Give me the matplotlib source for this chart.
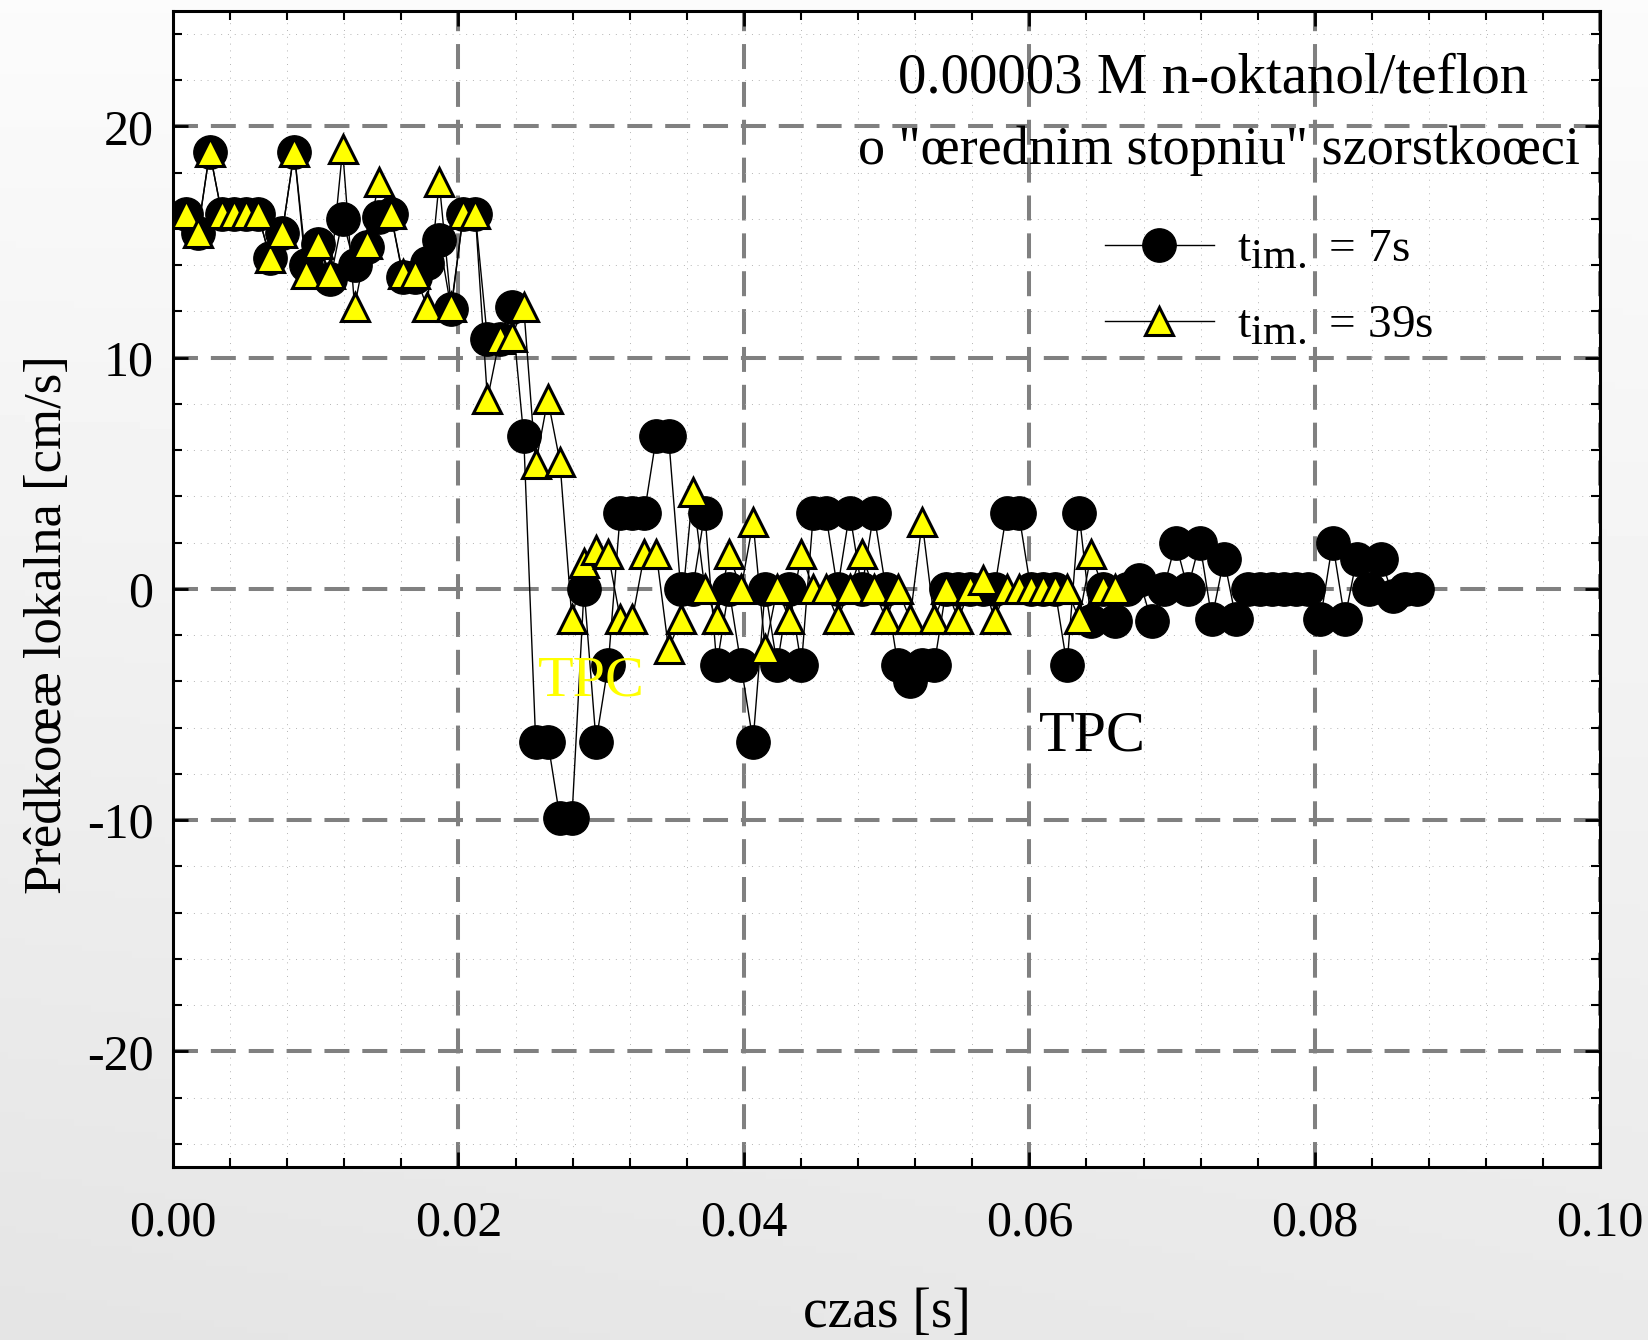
import numpy as np
import matplotlib.pyplot as plt
import matplotlib._mathtext as mathtext_internals
from matplotlib.ticker import MultipleLocator, FormatStrFormatter

plt.rcParams['font.family'] = ['Liberation Serif', 'DejaVu Serif']
plt.rcParams['mathtext.fontset'] = 'custom'
plt.rcParams['mathtext.rm'] = 'Liberation Serif'
plt.rcParams['axes.unicode_minus'] = False
# the legend subscripts "im." are nearly full size in the original
mathtext_internals.SHRINK_FACTOR = 0.92

# czas [s] - time of each frame
czas = [0.00088, 0.00173, 0.00257, 0.00342, 0.00426, 0.00511, 0.00596, 0.00680,
        0.00765, 0.00849, 0.00934, 0.01019, 0.01103, 0.01188, 0.01272, 0.01357,
        0.01442, 0.01526, 0.01611, 0.01695, 0.01780, 0.01865, 0.01949, 0.02034,
        0.02118, 0.02203, 0.02288, 0.02372, 0.02457, 0.02541, 0.02626, 0.02711,
        0.02795, 0.02880, 0.02964, 0.03049, 0.03134, 0.03218, 0.03303, 0.03387,
        0.03472, 0.03557, 0.03641, 0.03726, 0.03810, 0.03895, 0.03980, 0.04064,
        0.04149, 0.04233, 0.04318, 0.04403, 0.04487, 0.04572, 0.04656, 0.04741,
        0.04826, 0.04910, 0.04995, 0.05079, 0.05164, 0.05249, 0.05333, 0.05418,
        0.05502, 0.05587, 0.05672, 0.05756, 0.05841, 0.05925, 0.06010, 0.06095,
        0.06179, 0.06264, 0.06348, 0.06433, 0.06518, 0.06602, 0.06687, 0.06771,
        0.06856, 0.06941, 0.07025, 0.07110, 0.07194, 0.07279, 0.07364, 0.07448,
        0.07533, 0.07617, 0.07702, 0.07787, 0.07871, 0.07956, 0.08040, 0.08125,
        0.08210, 0.08294, 0.08379, 0.08463, 0.08548, 0.08633, 0.08717]

# t im. = 7s
v_7s = [16.2, 15.4, 18.9, 16.2, 16.2, 16.2, 16.2, 14.3, 15.4, 18.9,
        14.0, 14.9, 13.4, 16.0, 14.0, 14.8, 16.1, 16.2, 13.5, 13.5,
        14.1, 15.1, 12.1, 16.2, 16.2, 10.8, 10.8, 12.2, 6.6, -6.6,
        -6.6, -9.9, -9.9, 0.0, -6.6, -3.3, 3.3, 3.3, 3.3, 6.6,
        6.6, 0.0, 0.0, 3.3, -3.3, 0.0, -3.3, -6.6, 0.0, -3.3,
        0.0, -3.3, 3.3, 3.3, 0.0, 3.3, 0.0, 3.3, 0.0, -3.3,
        -4.0, -3.3, -3.3, 0.0, 0.0, 0.0, 0.0, 0.0, 3.3, 3.3,
        0.0, 0.0, 0.0, -3.3, 3.3, -1.4, 0.0, -1.4, 0.0, 0.4,
        -1.4, 0.0, 2.0, 0.0, 2.0, -1.3, 1.3, -1.3, 0.0, 0.0,
        0.0, 0.0, 0.0, 0.0, -1.3, 2.0, -1.3, 1.3, 0.0, 1.3,
        -0.3, 0.0, 0.0]

# t im. = 39s
v_39s = [16.2, 15.4, 18.9, 16.2, 16.2, 16.2, 16.2, 14.3, 15.4, 18.9,
         13.6, 14.9, 13.6, 19.0, 12.2, 14.9, 17.6, 16.2, 13.6, 13.6,
         12.2, 17.6, 12.2, 16.2, 16.2, 8.2, 10.8, 10.9, 12.2, 5.4,
         8.2, 5.5, -1.3, 1.1, 1.7, 1.5, -1.3, -1.3, 1.5, 1.5,
         -2.6, -1.3, 4.2, 0.0, -1.3, 1.5, 0.0, 2.9, -2.6, 0.0,
         -1.3, 1.5, 0.0, 0.0, -1.3, 0.0, 1.5, 0.0, -1.3, 0.0,
         -1.3, 2.9, -1.3, 0.0, -1.3, 0.0, 0.4, -1.3, 0.0, 0.0,
         0.0, 0.0, 0.0, 0.0, -1.3, 1.5, 0.0, 0.0]

fig = plt.figure(figsize=(16.48, 13.40), dpi=100)

# soft grey gradient behind the plot
bg = fig.add_axes([0, 0, 1, 1], zorder=-10)
gx, gy = np.meshgrid(np.linspace(0, 1, 200), np.linspace(0, 1, 200))
shade = 0.985 - 0.07 * gy - 0.02 * (1 - gx) * gy
bg.imshow(shade, cmap='gray', vmin=0, vmax=1, aspect='auto', extent=[0, 1, 0, 1])
bg.axis('off')

ax = fig.add_axes([0.105, 0.129, 0.866, 0.863])
ax.set_facecolor('white')

ax.plot(czas, v_7s, color='black', lw=1.0, marker='o', ms=24,
        mfc='black', mec='black', zorder=3, label=r't$_{\mathregular{im.}}$ = 7s')
ax.plot(czas[:len(v_39s)], v_39s, color='black', lw=1.0, marker='^', ms=20,
        mfc='#ffff00', mec='black', mew=2.2, zorder=4,
        label=r't$_{\mathregular{im.}}$ = 39s')

ax.set_xlim(0, 0.10)
ax.set_ylim(-25, 25)
ax.xaxis.set_major_locator(MultipleLocator(0.02))
ax.xaxis.set_minor_locator(MultipleLocator(0.004))
ax.yaxis.set_major_locator(MultipleLocator(10))
ax.yaxis.set_minor_locator(MultipleLocator(2))
ax.xaxis.set_major_formatter(FormatStrFormatter('%.2f'))

ax.set_axisbelow(True)
ax.grid(which='major', color='#808080', lw=2.9, linestyle=(0, (6.2, 3.2)))
ax.grid(which='minor', color='#b4b4b4', lw=0.7, linestyle=(0, (1, 6)))

ax.tick_params(which='both', direction='in', top=True, right=True, colors='black')
ax.tick_params(which='major', length=11, width=2)
ax.tick_params(which='minor', length=6.5, width=1.5)
ax.tick_params(axis='x', labelsize=36, pad=24)
ax.tick_params(axis='y', labelsize=36, pad=14)
for sp in ax.spines.values():
    sp.set_linewidth(2.2)
    sp.set_color('black')

ax.set_xlabel('czas [s]', fontsize=40)
ax.set_ylabel('Prêdkoœæ lokalna [cm/s]', fontsize=38)
ax.xaxis.set_label_coords(0.5, -0.104)
ax.yaxis.set_label_coords(-0.071, 0.469)

ax.text(0.729, 0.941, '0.00003 M n-oktanol/teflon', transform=ax.transAxes,
        fontsize=41, ha='center', va='center')
ax.text(0.733, 0.879, 'o "œrednim stopniu" szorstkoœci', transform=ax.transAxes,
        fontsize=39, ha='center', va='center')

ax.text(0.0256, -4.0, 'TPC', color='#ffff00', fontsize=42, ha='left', va='center', zorder=6)
ax.text(0.0607, -6.4, 'TPC', color='black', fontsize=42, ha='left', va='center', zorder=6)

ax.legend(loc='upper left', bbox_to_anchor=(0.653, 0.812), frameon=False,
          fontsize=34, numpoints=1, handlelength=2.3, handletextpad=0.5,
          labelspacing=0.7, borderaxespad=0, borderpad=0)

fig.savefig('out.png', dpi=100)
